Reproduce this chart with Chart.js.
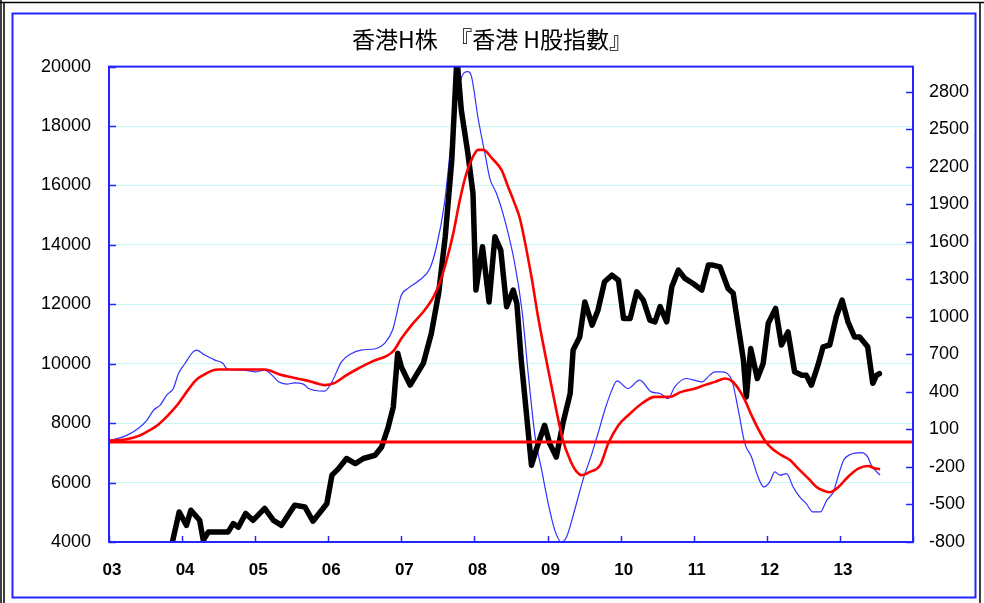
<!DOCTYPE html>
<html>
<head>
<meta charset="utf-8">
<script src="https://cdn.jsdelivr.net/npm/chart.js@4.4.1/dist/chart.umd.min.js"></script>
<style>
    html, body { margin: 0; padding: 0; background: #ffffff; }
    canvas { display: block; }
</style>
</head>
<body>
<canvas id="grafico" width="984" height="603"></canvas>
<script>
const TITULO = "香港H株　『香港 H股指數』";

const TICKS_X = [2003, 2004, 2005, 2006, 2007, 2008, 2009, 2010, 2011, 2012, 2013, 2014];
const TICKS_IZQ = [4000, 6000, 8000, 10000, 12000, 14000, 16000, 18000, 20000];
const TICKS_DER = [-800, -500, -200, 100, 400, 700, 1000, 1300, 1600, 1900, 2200, 2500, 2800];

// H株指数 (eje izquierdo)
const fechasIndice = [
    2003.84, 2003.96, 2004.06, 2004.12, 2004.24, 2004.29, 2004.36, 2004.63, 2004.70, 2004.77,
    2004.87, 2004.97, 2005.13, 2005.25, 2005.36, 2005.54, 2005.68, 2005.79, 2005.98, 2006.05,
    2006.14, 2006.25, 2006.37, 2006.48, 2006.64, 2006.73, 2006.82, 2006.89, 2006.95, 2007.00,
    2007.12, 2007.30, 2007.41, 2007.51, 2007.60, 2007.69, 2007.76, 2007.82, 2007.91, 2007.98,
    2008.02, 2008.11, 2008.20, 2008.28, 2008.36, 2008.44, 2008.53, 2008.58, 2008.64, 2008.78,
    2008.85, 2008.96, 2009.03, 2009.12, 2009.21, 2009.31, 2009.35, 2009.44, 2009.51, 2009.61,
    2009.69, 2009.78, 2009.88, 2009.97, 2010.04, 2010.13, 2010.22, 2010.31, 2010.40, 2010.47,
    2010.54, 2010.63, 2010.70, 2010.79, 2010.88, 2010.99, 2011.11, 2011.20, 2011.26, 2011.36,
    2011.47, 2011.54, 2011.61, 2011.68, 2011.72, 2011.78, 2011.87, 2011.95, 2012.02, 2012.12,
    2012.20, 2012.29, 2012.38, 2012.48, 2012.54, 2012.61, 2012.70, 2012.77, 2012.86, 2012.95,
    2013.03, 2013.11, 2013.20, 2013.27, 2013.38, 2013.45, 2013.50, 2013.54
];
const valoresIndice = [
    3700, 5010, 4560, 5070, 4730, 4060, 4340, 4340, 4620, 4500,
    4960, 4730, 5130, 4730, 4560, 5240, 5180, 4700, 5290, 6250,
    6470, 6810, 6640, 6810, 6920, 7200, 7870, 8550, 10350, 9890,
    9280, 10010, 11020, 12370, 14270, 16860, 20300, 18540, 17080, 15730,
    12480, 13940, 12080, 14270, 13820, 11920, 12480, 12030, 10120, 6580,
    7150, 7930, 7310, 6860, 7990, 9000, 10460, 10900, 12080, 11300,
    11800, 12760, 12980, 12810, 11520, 11520, 12420, 12140, 11470, 11410,
    11920, 11410, 12590, 13150, 12870, 12700, 12480, 13320, 13320, 13260,
    12530, 12370, 11240, 10120, 8880, 10510, 9500, 10010, 11360, 11860,
    10630, 11070, 9730, 9610, 9610, 9280, 9950, 10570, 10630, 11580,
    12140, 11410, 10900, 10900, 10570, 9340, 9610, 9670
];

// serie azul fina (eje derecho)
const fechasAzul = [
    2003.00, 2003.22, 2003.40, 2003.52, 2003.61, 2003.70, 2003.79, 2003.88, 2003.95, 2004.04,
    2004.15, 2004.20, 2004.31, 2004.45, 2004.56, 2004.61, 2004.75, 2004.90, 2005.00, 2005.13,
    2005.23, 2005.32, 2005.43, 2005.54, 2005.66, 2005.73, 2005.82, 2005.95, 2006.05, 2006.18,
    2006.32, 2006.45, 2006.66, 2006.77, 2006.88, 2007.00, 2007.09, 2007.25, 2007.39, 2007.48,
    2007.59, 2007.69, 2007.78, 2007.86, 2007.91, 2007.96, 2008.05, 2008.16, 2008.21, 2008.30,
    2008.39, 2008.55, 2008.65, 2008.74, 2008.83, 2008.92, 2009.01, 2009.10, 2009.19, 2009.26,
    2009.37, 2009.49, 2009.60, 2009.69, 2009.79, 2009.88, 2009.95, 2010.10, 2010.26, 2010.42,
    2010.54, 2010.65, 2010.74, 2010.90, 2011.11, 2011.22, 2011.29, 2011.38, 2011.52, 2011.61,
    2011.70, 2011.79, 2011.88, 2011.96, 2012.04, 2012.11, 2012.18, 2012.27, 2012.36, 2012.45,
    2012.54, 2012.63, 2012.73, 2012.82, 2012.91, 2012.98, 2013.05, 2013.14, 2013.30, 2013.38,
    2013.43, 2013.55
];
const valoresAzul = [
    10, 46, 107, 174, 254, 294, 374, 427, 547, 627,
    720, 734, 694, 654, 627, 587, 575, 570, 560, 574,
    534, 480, 462, 472, 462, 427, 411, 406, 480, 640,
    707, 734, 747, 787, 894, 1174, 1227, 1294, 1387, 1560,
    1907, 2440, 2814, 2952, 2960, 2920, 2587, 2254, 2107, 1987,
    1827, 1430, 1054, 520, 40, -226, -493, -707, -800, -760,
    -546, -293, -106, 67, 267, 414, 488, 427, 494, 400,
    387, 347, 440, 507, 480, 534, 560, 560, 494, 254,
    -13, -120, -280, -360, -320, -240, -266, -253, -360, -440,
    -493, -560, -560, -466, -400, -266, -146, -101, -85, -120,
    -186, -266
];

// serie roja suavizada (eje derecho)
const fechasRoja = [
    2003.00, 2003.22, 2003.40, 2003.54, 2003.68, 2003.81, 2003.95, 2004.08, 2004.19, 2004.29,
    2004.40, 2004.50, 2005.13, 2005.36, 2005.68, 2005.82, 2005.95, 2006.09, 2006.25, 2006.41,
    2006.59, 2006.89, 2007.00, 2007.14, 2007.30, 2007.44, 2007.53, 2007.62, 2007.71, 2007.80,
    2007.89, 2007.98, 2008.05, 2008.12, 2008.24, 2008.37, 2008.46, 2008.55, 2008.62, 2008.78,
    2008.87, 2009.01, 2009.12, 2009.21, 2009.31, 2009.40, 2009.47, 2009.58, 2009.72, 2009.83,
    2009.97, 2010.13, 2010.29, 2010.47, 2010.67, 2010.83, 2011.02, 2011.15, 2011.29, 2011.43,
    2011.52, 2011.61, 2011.70, 2011.79, 2011.88, 2011.97, 2012.07, 2012.20, 2012.32, 2012.43,
    2012.57, 2012.68, 2012.77, 2012.86, 2012.98, 2013.11, 2013.25, 2013.39, 2013.46, 2013.55
];
const valoresRoja = [
    10, 19, 46, 88, 142, 214, 307, 414, 494, 534,
    568, 579, 579, 534, 494, 472, 454, 472, 534, 587,
    640, 726, 827, 934, 1040, 1160, 1280, 1454, 1667, 1934,
    2147, 2280, 2334, 2334, 2267, 2174, 2040, 1907, 1790, 1320,
    1000, 574, 254, 14, -146, -240, -266, -240, -186, -13,
    134, 227, 307, 360, 360, 400, 427, 454, 480, 507,
    488, 427, 334, 214, 107, 14, -53, -106, -146, -213,
    -293, -360, -389, -402, -360, -280, -213, -192, -208, -218
];

const fechasCero = [2003, 2014];
const valoresCero = [0, 0];

const AZUL_EJE = "#2424ff";

function aPuntos(fechas, valores) {
    return fechas.map((fecha, i) => ({ x: fecha, y: valores[i] }));
}

function fijarTicks(lista) {
    return scale => {
        scale.ticks = lista.map(valor => ({ value: valor }));
    };
}

// fondo blanco y marcos exteriores
const pluginFondo = {
    id: "fondo",
    beforeDraw(chart) {
        const ctx = chart.ctx;
        ctx.save();
        ctx.fillStyle = "#ffffff";
        ctx.fillRect(0, 0, chart.width, chart.height);
        ctx.restore();
    },
    afterDraw(chart) {
        const ctx = chart.ctx;
        ctx.save();
        ctx.strokeStyle = "#000000";
        ctx.lineWidth = 1.5;
        ctx.beginPath();
        ctx.moveTo(0, 2.5); ctx.lineTo(chart.width, 2.5);
        ctx.moveTo(1, 0); ctx.lineTo(1, chart.height);
        ctx.moveTo(4, 2.5); ctx.lineTo(4, chart.height);
        ctx.moveTo(980, 2.5); ctx.lineTo(980, chart.height);
        ctx.stroke();
        ctx.strokeStyle = AZUL_EJE;
        ctx.lineWidth = 2;
        ctx.strokeRect(12.5, 13.5, 963, 584);
        ctx.restore();
    }
};

// borde del área y marcas hacia dentro
const pluginMarcas = {
    id: "marcas",
    afterDatasetsDraw(chart) {
        const ctx = chart.ctx;
        const area = chart.chartArea;
        const { x, y, y2 } = chart.scales;
        ctx.save();
        ctx.strokeStyle = AZUL_EJE;
        ctx.lineWidth = 1.5;
        ctx.beginPath();
        TICKS_X.forEach(v => {
            const px = Math.round(x.getPixelForValue(v)) + 0.5;
            ctx.moveTo(px, area.bottom); ctx.lineTo(px, area.bottom - 6);
        });
        TICKS_IZQ.forEach(v => {
            const py = Math.round(y.getPixelForValue(v)) + 0.5;
            ctx.moveTo(area.left, py); ctx.lineTo(area.left + 7, py);
        });
        TICKS_DER.forEach(v => {
            const py = Math.round(y2.getPixelForValue(v)) + 0.5;
            ctx.moveTo(area.right, py); ctx.lineTo(area.right - 7, py);
        });
        ctx.stroke();
        ctx.lineWidth = 2;
        ctx.strokeRect(area.left, area.top, area.right - area.left, area.bottom - area.top);
        ctx.restore();
    }
};

const fuenteTicks = { family: "'Liberation Sans', Arial, sans-serif", size: 18 };

new Chart(document.getElementById("grafico"), {
    type: "line",
    data: {
        datasets: [
            {
                label: "azul",
                data: aPuntos(fechasAzul, valoresAzul),
                yAxisID: "y2",
                borderColor: "#3030ff",
                borderWidth: 1.2,
                pointRadius: 0,
                cubicInterpolationMode: "monotone",
                order: 4
            },
            {
                label: "H株",
                data: aPuntos(fechasIndice, valoresIndice),
                yAxisID: "y",
                borderColor: "#000000",
                borderWidth: 5.5,
                borderJoinStyle: "round",
                borderCapStyle: "round",
                pointRadius: 0,
                tension: 0,
                clip: 0,
                order: 3
            },
            {
                label: "roja",
                data: aPuntos(fechasRoja, valoresRoja),
                yAxisID: "y2",
                borderColor: "#ff0000",
                borderWidth: 2.6,
                pointRadius: 0,
                cubicInterpolationMode: "monotone",
                order: 2
            },
            {
                label: "cero",
                data: aPuntos(fechasCero, valoresCero),
                yAxisID: "y2",
                borderColor: "#ff0000",
                borderWidth: 3,
                pointRadius: 0,
                order: 1
            }
        ]
    },
    options: {
        responsive: false,
        animation: false,
        events: [],
        plugins: {
            legend: { display: false },
            tooltip: { enabled: false },
            title: {
                display: true,
                text: TITULO,
                color: "#000000",
                font: { family: "'Noto Sans CJK JP', sans-serif", size: 23, weight: "normal" },
                padding: { top: 25, bottom: 14 }
            }
        },
        scales: {
            x: {
                type: "linear",
                min: 2003,
                max: 2014,
                afterBuildTicks: fijarTicks(TICKS_X),
                afterFit: scale => { scale.height = 61; },
                grid: { display: false },
                border: { display: false },
                ticks: {
                    autoSkip: false,
                    maxRotation: 0,
                    padding: 10,
                    labelOffset: 3,
                    color: "#000000",
                    font: { family: "'Liberation Sans', Arial, sans-serif", size: 17, weight: "bold" },
                    callback: valor => valor === 2014 ? "" : String(valor).slice(2)
                }
            },
            y: {
                position: "left",
                min: 4000,
                max: 20000,
                afterBuildTicks: fijarTicks(TICKS_IZQ),
                afterFit: scale => { scale.width = 109; },
                grid: { color: "#c6f7f7", lineWidth: 1, drawTicks: false },
                border: { display: false },
                ticks: {
                    padding: 18,
                    color: "#000000",
                    font: fuenteTicks,
                    callback: valor => String(valor)
                }
            },
            y2: {
                position: "right",
                min: -800,
                max: 3000,
                afterBuildTicks: fijarTicks(TICKS_DER),
                afterFit: scale => { scale.width = 71; },
                grid: { display: false, drawTicks: false },
                border: { display: false },
                ticks: {
                    padding: 16,
                    color: "#000000",
                    font: fuenteTicks,
                    callback: valor => String(valor)
                }
            }
        }
    },
    plugins: [pluginFondo, pluginMarcas]
});
</script>
</body>
</html>
